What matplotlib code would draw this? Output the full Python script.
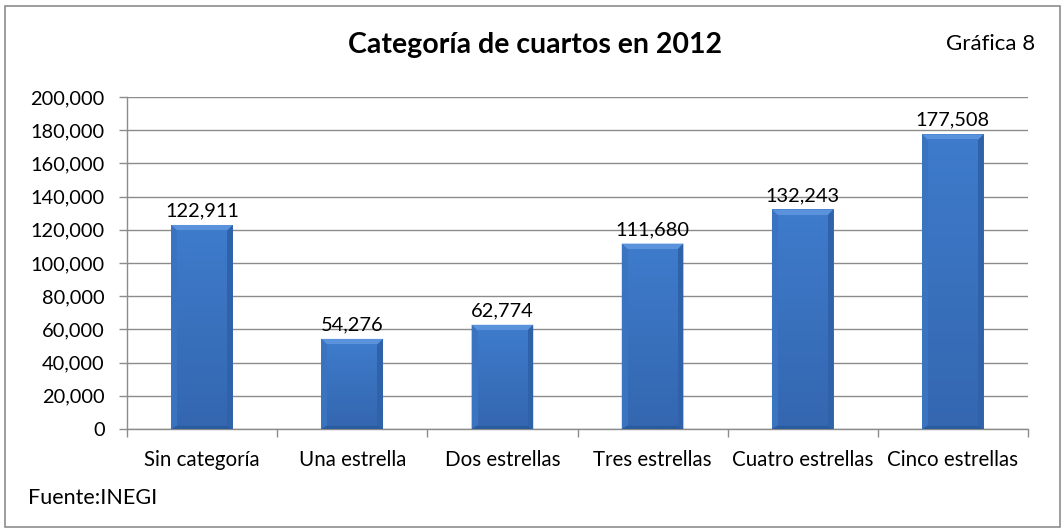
import matplotlib
matplotlib.use("Agg")
import matplotlib.pyplot as plt
from matplotlib.patches import Polygon, Rectangle
from matplotlib.colors import LinearSegmentedColormap
from matplotlib.ticker import FuncFormatter, MultipleLocator
import numpy as np

categories = ["Sin categoría", "Una estrella", "Dos estrellas", "Tres estrellas",
              "Cuatro estrellas", "Cinco estrellas"]
rooms = [122911, 54276, 62774, 111680, 132243, 177508]

title = "Categoría de cuartos en 2012"
chart_tag = "Gráfica 8"
source = "Fuente:INEGI"

plt.rcParams["font.family"] = ["Lato", "DejaVu Sans"]

W, H, DPI = 1062, 529, 100
fig = plt.figure(figsize=(W / DPI, H / DPI), dpi=DPI)
fig.patch.set_facecolor("white")

# outer frame of the chart
fig.add_artist(Rectangle((5 / W, 2 / H), (W - 7) / W, (H - 8) / H,
                         transform=fig.transFigure, fill=False,
                         edgecolor="#8c8c8c", linewidth=1.2))

ax = fig.add_axes([127 / W, (H - 429) / H, (1028 - 127) / W, (429 - 97) / H])
x = np.arange(len(categories))
bar_w = 0.41
bars = ax.bar(x, rooms, width=bar_w, color="#3b76c6", edgecolor="none", zorder=3)

ax.set_xlim(-0.5, len(categories) - 0.5)
ax.set_ylim(0, 200000)
ax.yaxis.set_major_locator(MultipleLocator(20000))
ax.yaxis.set_major_formatter(FuncFormatter(lambda v, p: f"{int(v):,}"))
ax.grid(axis="y", color="#8c8c8c", linewidth=1.0, zorder=0)
ax.set_axisbelow(True)

# bevelled look for each bar, built from the bar geometry
face_cmap = LinearSegmentedColormap.from_list("barface", ["#3467b0", "#3e7bcb"])
bev_px = 6
inv = ax.transData.inverted()
for b in bars:
    x0, y0 = b.get_x(), b.get_y()
    x1, y1 = x0 + b.get_width(), y0 + b.get_height()
    p0 = ax.transData.transform((x0, y0))
    p1 = ax.transData.transform((x1, y1))
    ix0, iy0 = inv.transform((p0[0] + bev_px, p0[1] + bev_px * 0.6))
    ix1, iy1 = inv.transform((p1[0] - bev_px, p1[1] - bev_px))
    faces = [
        ([(x0, y1), (x1, y1), (ix1, iy1), (ix0, iy1)], "#5a92dc"),   # top
        ([(x0, y0), (x0, y1), (ix0, iy1), (ix0, iy0)], "#3a73c0"),   # left
        ([(x1, y0), (x1, y1), (ix1, iy1), (ix1, iy0)], "#3062aa"),   # right
        ([(x0, y0), (x1, y0), (ix1, iy0), (ix0, iy0)], "#2b5b9f"),   # bottom
    ]
    for pts, col in faces:
        ax.add_patch(Polygon(pts, closed=True, facecolor=col, edgecolor="none", zorder=4))
    grad = np.linspace(0, 1, 64).reshape(-1, 1)
    ax.imshow(grad, extent=(ix0, ix1, iy0, iy1), aspect="auto", origin="lower",
              cmap=face_cmap, zorder=4.5)

ax.set_xlim(-0.5, len(categories) - 0.5)
ax.set_ylim(0, 200000)

for xi, v in zip(x, rooms):
    ax.annotate(f"{v:,}", (xi, v), xytext=(0, 4), textcoords="offset points",
                ha="center", va="bottom", fontsize=14.4, color="#000000")

ax.set_xticks(x)
ax.set_xticklabels(categories)
ax.set_xticks(np.arange(-0.5, len(categories)), minor=True)
ax.tick_params(axis="x", which="major", length=0, pad=15, labelsize=14.8)
ax.tick_params(axis="x", which="minor", length=6, color="#8c8c8c", width=1.0)
ax.tick_params(axis="y", length=6, color="#8c8c8c", width=1.0, pad=10, labelsize=14.4)

for side in ("top", "right"):
    ax.spines[side].set_visible(False)
for side in ("left", "bottom"):
    ax.spines[side].set_color("#8c8c8c")
    ax.spines[side].set_linewidth(1.0)

fig.text(535 / W, 1 - 45 / H, title, ha="center", va="center",
         fontsize=20.5, fontweight="bold")
fig.text(991 / W, 1 - 44 / H, chart_tag, ha="center", va="center", fontsize=16)
fig.text(28 / W, 1 - 498 / H, source, ha="left", va="center", fontsize=15.5)

fig.savefig("out.png", dpi=DPI, facecolor="white")
